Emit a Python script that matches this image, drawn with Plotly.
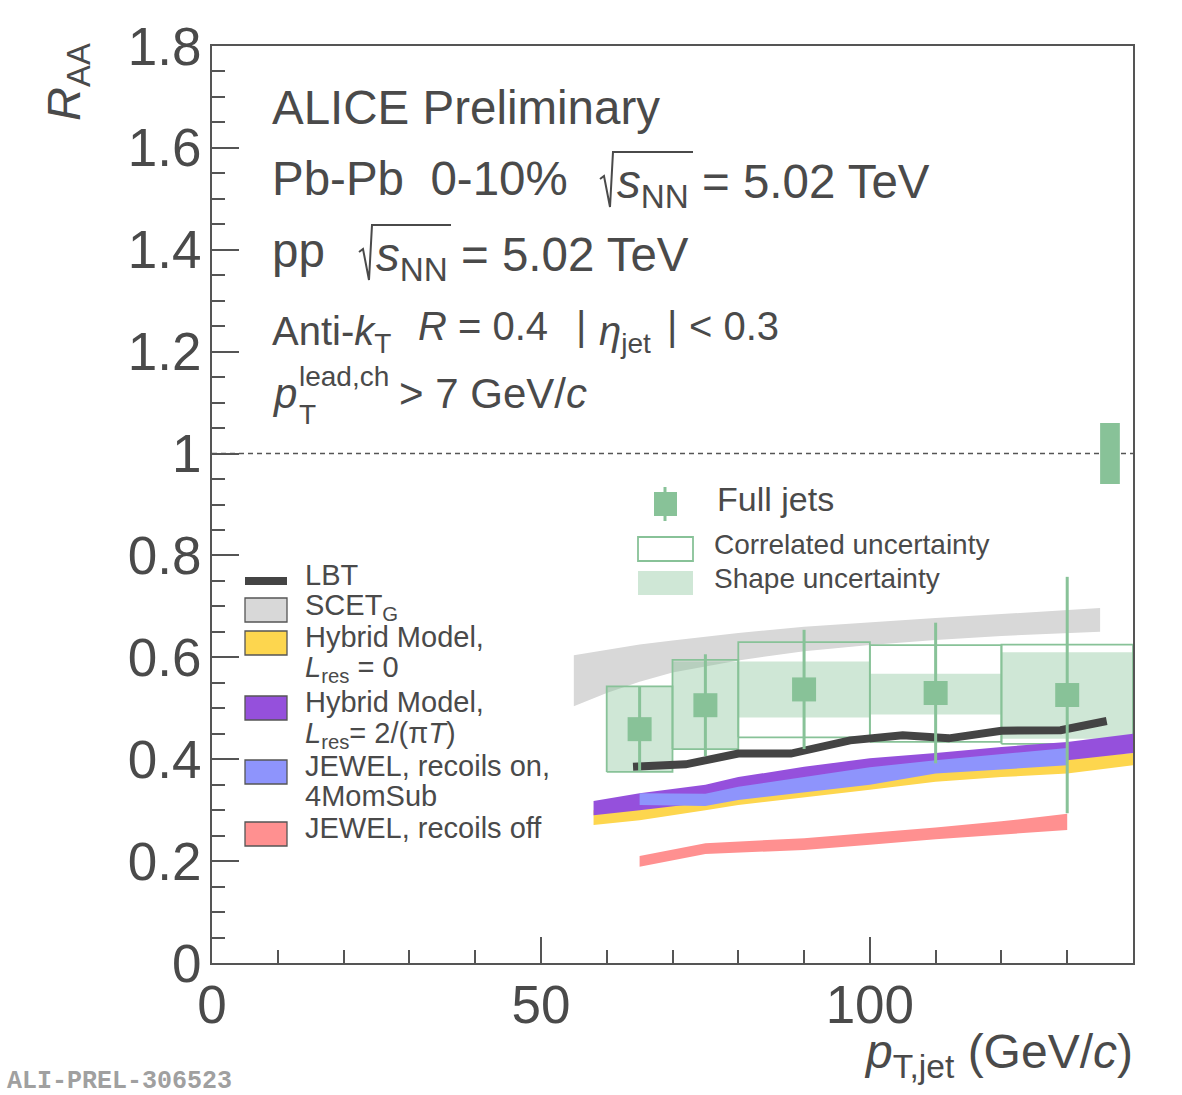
import plotly.graph_objects as go

# ---------------- data ----------------
pt_points = [65, 75, 90, 110, 130]
raa_points = [0.459, 0.506, 0.537, 0.530, 0.526]
stat_err = [0.084, 0.10, 0.117, 0.138, 0.232]

bin_lo = [60, 70, 80, 100, 120]
bin_hi = [70, 80, 100, 120, 140]
corr_lo = [0.375, 0.420, 0.443, 0.434, 0.430]
corr_hi = [0.543, 0.595, 0.630, 0.624, 0.625]
shape_lo = [0.375, 0.420, 0.482, 0.488, 0.440]
shape_hi = [0.543, 0.592, 0.592, 0.568, 0.610]

norm_x = [135, 138]
norm_unc = 0.06

scet_pt = [55, 60, 65, 70, 80, 90, 100, 110, 120, 135]
scet_hi = [0.604, 0.615, 0.625, 0.633, 0.648, 0.660, 0.669, 0.677, 0.685, 0.697]
scet_lo = [0.504, 0.530, 0.552, 0.570, 0.594, 0.612, 0.624, 0.634, 0.642, 0.650]

lbt_pt = [64, 72, 80, 88, 97, 105, 112, 120, 129, 136]
lbt_raa = [0.385, 0.390, 0.411, 0.411, 0.437, 0.447, 0.441, 0.456, 0.457, 0.475]

hyb_pt = [58, 65, 75, 80, 90, 100, 110, 120, 130, 140]
hyb0_hi = [0.300, 0.312, 0.325, 0.340, 0.358, 0.375, 0.385, 0.395, 0.402, 0.412]
hyb0_lo = [0.271, 0.280, 0.300, 0.310, 0.325, 0.340, 0.356, 0.365, 0.372, 0.388]
hyb2_hi = [0.318, 0.333, 0.350, 0.365, 0.385, 0.402, 0.412, 0.424, 0.434, 0.450]
hyb2_lo = [0.290, 0.300, 0.315, 0.330, 0.350, 0.365, 0.378, 0.388, 0.398, 0.412]

jon_pt = [65, 75, 80, 90, 100, 110, 120, 130]
jon_hi = [0.333, 0.332, 0.346, 0.365, 0.384, 0.398, 0.410, 0.422]
jon_lo = [0.310, 0.308, 0.320, 0.335, 0.350, 0.372, 0.380, 0.388]

joff_pt = [65, 75, 90, 100, 110, 120, 130]
joff_hi = [0.210, 0.235, 0.245, 0.255, 0.266, 0.278, 0.293]
joff_lo = [0.189, 0.214, 0.222, 0.232, 0.243, 0.252, 0.261]

x_ticks = [0, 50, 100]
y_ticks = [0, 0.2, 0.4, 0.6, 0.8, 1.0, 1.2, 1.4, 1.6, 1.8]

# ---------------- style ----------------
FONT = "Liberation Sans"
TXT = "#4a4a4a"
AX = "#555555"
GREEN = "#88c298"
GREEN_FILL = "rgba(136,194,152,0.40)"
GRAY = "#d8d8d8"
YELLOW = "#fdd64e"
PURPLE = "#9550dc"
BLUE = "#8e94fc"
RED = "#ff9090"
LBT_C = "#444444"

W, H = 1182, 1095
L, R, T, B = 212, 1133, 46, 963


def px(x):
    return (x - L) / (R - L)


def py(y):
    return (B - y) / (B - T)


def band(xs, hi, lo, color, name):
    return go.Scatter(x=list(xs) + list(xs)[::-1], y=list(hi) + list(lo)[::-1],
                      fill="toself", fillcolor=color, line=dict(width=0),
                      mode="lines", hoverinfo="skip", showlegend=False, name=name)


fig = go.Figure()

fig.add_trace(band(scet_pt, scet_hi, scet_lo, GRAY, "SCET"))

# shape uncertainty boxes
sx, sy = [], []
for lo, hi, a, b in zip(bin_lo, bin_hi, shape_lo, shape_hi):
    sx += [lo, hi, hi, lo, lo, None]
    sy += [a, a, b, b, a, None]
fig.add_trace(go.Scatter(x=sx, y=sy, fill="toself", fillcolor=GREEN_FILL,
                         line=dict(width=0), mode="lines", showlegend=False, hoverinfo="skip"))

# correlated uncertainty boxes
cx, cy = [], []
for lo, hi, a, b in zip(bin_lo, bin_hi, corr_lo, corr_hi):
    cx += [lo, hi, hi, lo, lo, None]
    cy += [a, a, b, b, a, None]
fig.add_trace(go.Scatter(x=cx, y=cy, mode="lines", line=dict(color=GREEN, width=1.8),
                         showlegend=False, hoverinfo="skip"))

fig.add_trace(band(hyb_pt, hyb0_hi, hyb0_lo, YELLOW, "Hybrid0"))
fig.add_trace(band(hyb_pt, hyb2_hi, hyb2_lo, PURPLE, "Hybrid2"))
fig.add_trace(band(jon_pt, jon_hi, jon_lo, BLUE, "JEWEL on"))
fig.add_trace(band(joff_pt, joff_hi, joff_lo, RED, "JEWEL off"))

fig.add_trace(go.Scatter(x=lbt_pt, y=lbt_raa, mode="lines",
                         line=dict(color=LBT_C, width=8), showlegend=False, hoverinfo="skip"))

# normalisation uncertainty box at unity
fig.add_trace(go.Scatter(x=[norm_x[0], norm_x[1], norm_x[1], norm_x[0], norm_x[0]],
                         y=[1 - norm_unc, 1 - norm_unc, 1 + norm_unc, 1 + norm_unc, 1 - norm_unc],
                         fill="toself", fillcolor=GREEN, line=dict(width=0), mode="lines",
                         showlegend=False, hoverinfo="skip"))

# data points
fig.add_trace(go.Scatter(x=pt_points, y=raa_points, mode="markers",
                         marker=dict(symbol="square", size=24, color=GREEN),
                         error_y=dict(type="data", array=stat_err, color=GREEN, thickness=3, width=0),
                         showlegend=False))

shapes = []
# dashed unity line
shapes.append(dict(type="line", xref="x", yref="y", x0=0, x1=140, y0=1, y1=1,
                   line=dict(color="#555555", width=1.5, dash="5px,4px"), layer="below"))


def radical(x0, ytop, ybot, xend):
    pts = [(x0, ytop + 27), (x0 + 4, ytop + 24), (x0 + 10, ybot), (x0 + 13, ytop), (xend, ytop)]
    d = "M " + " L ".join(f"{px(a)},{py(b)}" for a, b in pts)
    return dict(type="path", xref="paper", yref="paper", path=d,
                line=dict(color=TXT, width=2))


shapes.append(radical(600, 152, 207, 693))
shapes.append(radical(359, 225, 280, 451))

# left legend swatches
shapes.append(dict(type="line", xref="paper", yref="paper", x0=px(245), x1=px(287),
                   y0=py(581), y1=py(581), line=dict(color=LBT_C, width=8)))
for (y0, y1, col) in [(598, 622, GRAY), (631, 655, YELLOW), (696, 720, PURPLE),
                      (760, 784, BLUE), (822, 846, RED)]:
    shapes.append(dict(type="rect", xref="paper", yref="paper", x0=px(245), x1=px(287),
                       y0=py(y0), y1=py(y1), fillcolor=col, line=dict(color="#555555", width=1.3)))

# right legend swatches
shapes.append(dict(type="line", xref="paper", yref="paper", x0=px(665), x1=px(665),
                   y0=py(487), y1=py(521), line=dict(color=GREEN, width=3)))
shapes.append(dict(type="rect", xref="paper", yref="paper", x0=px(654), x1=px(677),
                   y0=py(492), y1=py(516), fillcolor=GREEN, line=dict(width=0)))
shapes.append(dict(type="rect", xref="paper", yref="paper", x0=px(638), x1=px(693),
                   y0=py(537), y1=py(561), fillcolor="rgba(0,0,0,0)", line=dict(color=GREEN, width=1.8)))
shapes.append(dict(type="rect", xref="paper", yref="paper", x0=px(638), x1=px(693),
                   y0=py(571), y1=py(595), fillcolor=GREEN_FILL, line=dict(width=0)))

ann = []


def text(x, y, s, size, xanchor="left", yanchor="middle", angle=0, color=TXT, family=FONT):
    ann.append(dict(x=px(x), y=py(y), xref="paper", yref="paper", text=s, showarrow=False,
                    xanchor=xanchor, yanchor=yanchor, textangle=angle,
                    font=dict(size=size, color=color, family=family)))


NB = "\u00a0"
text(270, 107, "ALICE Preliminary", 47.5)
text(270, 178, f"Pb-Pb{NB}{NB}0-10%", 47.5)
text(615, 185, "<i>s</i><sub>NN</sub> = 5.02 TeV", 47.5)
text(270, 250, "pp", 47.5)
text(374, 258, "<i>s</i><sub>NN</sub> = 5.02 TeV", 47.5)

text(270, 334, "Anti-<i>k</i><sub>T</sub>", 40)
text(416, 326, "<i>R</i> = 0.4", 40)
text(574, 326, "|", 40)
text(597, 334, "<i>η</i><sub>jet</sub>", 40)
text(665, 326, "|", 40)
text(687, 326, "&lt; 0.3", 40)

text(270, 393, "<i>p</i>", 42)
text(297, 376, "lead,ch", 28)
text(297, 414, "T", 28)
text(397, 393, "&gt; 7 GeV/<i>c</i>", 42)

# left legend text
text(303, 575, "LBT", 29)
text(303, 607, "SCET<sub>G</sub>", 29)
text(303, 637, "Hybrid Model,", 29)
text(303, 669, "<i>L</i><sub>res</sub> = 0", 29)
text(303, 702, "Hybrid Model,", 29)
text(303, 735, "<i>L</i><sub>res</sub>= 2/(π<i>T</i>)", 29)
text(303, 766, "JEWEL, recoils on,", 29)
text(303, 796, "4MomSub", 29)
text(303, 828, "JEWEL, recoils off", 29)

# right legend text
text(715, 499, "Full jets", 34)
text(712, 544, "Correlated uncertainty", 28)
text(712, 578, "Shape uncertainty", 28)

# axis titles
text(67, 82, "<i>R</i><sub>AA</sub>", 47, xanchor="center", angle=-90)
text(1135, 1055, "<i>p</i><sub>T,jet</sub> (GeV/<i>c</i>)", 48, xanchor="right")
text(5, 1081, "<b>ALI-PREL-306523</b>", 25, color="#a0a0a0", family="Liberation Mono")

fig.update_layout(
    width=W, height=H,
    margin=dict(l=L, r=W - R, t=T, b=H - B),
    paper_bgcolor="white", plot_bgcolor="white",
    showlegend=False,
    shapes=shapes, annotations=ann,
    xaxis=dict(range=[0, 140], tickvals=x_ticks, ticks="inside", ticklen=26, tickwidth=1.5,
               tickcolor=AX, showline=True, linecolor=AX, linewidth=2, mirror=True,
               showgrid=False, zeroline=False, ticklabelstandoff=-6,
               tickfont=dict(size=53, color=TXT, family=FONT),
               minor=dict(dtick=10, ticks="inside", ticklen=13, tickwidth=1.5, tickcolor=AX,
                          showgrid=False)),
    yaxis=dict(range=[0, 1.8], tickvals=y_ticks, ticks="inside", ticklen=27, tickwidth=1.5,
               tickcolor=AX, showline=True, linecolor=AX, linewidth=2, mirror=True,
               showgrid=False, zeroline=False, ticklabelstandoff=-2,
               tickfont=dict(size=53, color=TXT, family=FONT),
               minor=dict(dtick=0.05, ticks="inside", ticklen=13, tickwidth=1.5, tickcolor=AX,
                          showgrid=False)),
)

fig.write_html("out.html")
